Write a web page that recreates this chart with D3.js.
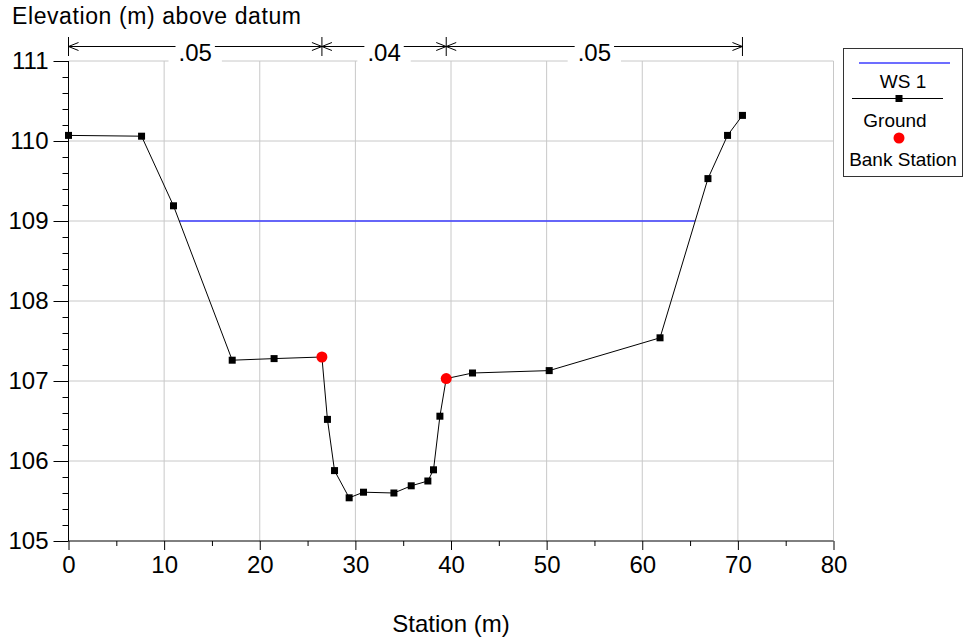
<!DOCTYPE html>
<html>
<head>
<meta charset="utf-8">
<script src="https://cdn.jsdelivr.net/npm/d3@7"></script>
<style>
  body { margin: 0; background: #fff; }
  svg { display: block; font-family: Arial, "Liberation Sans", sans-serif; }
</style>
</head>
<body>
<div id="chart"></div>
<script>
// ground profile (station m, elevation m)
const groundStations = [0, 7.64, 10.98, 17.12, 21.5, 26.5, 27.08, 27.82, 29.35, 30.85, 34.03,
  35.84, 37.58, 38.17, 38.84, 39.5, 42.25, 50.27, 61.86, 66.87, 68.92, 70.48];
const groundElevations = [110.07, 110.06, 109.19, 107.26, 107.28, 107.30, 106.52, 105.88, 105.54, 105.61, 105.60,
  105.69, 105.75, 105.89, 106.56, 107.03, 107.10, 107.13, 107.54, 109.53, 110.07, 110.32];

// bank stations
const bankStations = [26.5, 39.5];
const bankElevations = [107.30, 107.03];

// water surface
const wsStations = [11.6, 65.5];
const wsElevation = 109.0;

// manning's n breaks and values
const nBreaks = [0, 26.5, 39.5, 70.48];
const nValues = [".05", ".04", ".05"];

// axes
const xTicks = [0, 10, 20, 30, 40, 50, 60, 70, 80];
const yTicks = [105, 106, 107, 108, 109, 110, 111];

const width = 968, height = 643;
const margin = { top: 61, right: 134.5, bottom: 102, left: 68.5 };
const innerWidth = width - margin.left - margin.right;
const innerHeight = height - margin.top - margin.bottom;
const font = 'Arial, "Liberation Sans", sans-serif';

const svg = d3.select('#chart').append('svg')
  .attr('width', width)
  .attr('height', height)
  .attr('font-family', font);

const x = d3.scaleLinear().domain([0, 80]).range([margin.left, margin.left + innerWidth]);
const y = d3.scaleLinear().domain([105, 111]).range([margin.top + innerHeight, margin.top]);

const grid = '#c8c8c8';
const wsColor = '#3c3cff';

// gridlines
svg.append('g').selectAll('line').data(xTicks.slice(1)).enter()
  .append('line')
  .attr('x1', d => x(d)).attr('x2', d => x(d))
  .attr('y1', y(105)).attr('y2', y(111))
  .attr('stroke', grid).attr('stroke-width', 1);
svg.append('g').selectAll('line').data(yTicks.slice(1)).enter()
  .append('line')
  .attr('x1', x(0)).attr('x2', x(80))
  .attr('y1', d => y(d)).attr('y2', d => y(d))
  .attr('stroke', grid).attr('stroke-width', 1);

// water surface
svg.append('line')
  .attr('x1', x(wsStations[0])).attr('x2', x(wsStations[1]))
  .attr('y1', y(wsElevation)).attr('y2', y(wsElevation))
  .attr('stroke', wsColor).attr('stroke-width', 1.4);

// ground line
const ground = groundStations.map((s, i) => ({ s: s, e: groundElevations[i] }));
const line = d3.line().x(d => x(d.s)).y(d => y(d.e));
svg.append('path')
  .datum(ground)
  .attr('d', line)
  .attr('fill', 'none')
  .attr('stroke', '#000')
  .attr('stroke-width', 1);

svg.append('g').selectAll('rect').data(ground).enter()
  .append('rect')
  .attr('x', d => x(d.s) - 3.5)
  .attr('y', d => y(d.e) - 3.5)
  .attr('width', 7).attr('height', 7)
  .attr('fill', '#000');

// bank stations
svg.append('g').selectAll('circle').data(bankStations).enter()
  .append('circle')
  .attr('cx', d => x(d))
  .attr('cy', (d, i) => y(bankElevations[i]))
  .attr('r', 5.5)
  .attr('fill', '#ff0000');

// axes
const yAxis = d3.axisLeft(y).tickValues(yTicks).tickSize(15).tickPadding(5).tickFormat(d3.format('d'));
const yMinor = d3.axisLeft(y).tickValues(d3.range(105, 111, 0.2).filter(v => Math.abs(v - Math.round(v)) > 0.01))
  .tickSize(6);
const xAxis = d3.axisBottom(x).tickValues(xTicks).tickSize(9).tickPadding(6);
const xMinor = d3.axisBottom(x).tickValues(d3.range(5, 80, 10)).tickSize(5);

function styleAxis(g) {
  g.attr('font-size', 24).attr('font-family', font);
  g.select('.domain').attr('stroke', '#000');
  g.selectAll('.tick line').attr('stroke', '#000');
  g.selectAll('.tick text').attr('fill', '#000');
}

svg.append('g').attr('transform', `translate(${x(0)},0)`).call(yMinor)
  .call(g => { g.select('.domain').remove(); g.selectAll('.tick text').remove(); })
  .selectAll('.tick line').attr('stroke', '#000');
svg.append('g').attr('transform', `translate(${x(0)},0)`).call(yAxis).call(styleAxis)
  .select('.domain').attr('d', `M0,${y(105)}V${y(111)}`);
svg.append('g').attr('transform', `translate(0,${y(105)})`).call(xMinor)
  .call(g => { g.select('.domain').remove(); g.selectAll('.tick text').remove(); })
  .selectAll('.tick line').attr('stroke', '#000');
svg.append('g').attr('transform', `translate(0,${y(105)})`).call(xAxis).call(styleAxis)
  .select('.domain').attr('d', `M${x(0)},0H${x(80)}`);

// axis titles
svg.append('text')
  .attr('x', 12).attr('y', 24)
  .attr('font-size', 23)
  .attr('textLength', 289).attr('lengthAdjust', 'spacing')
  .text('Elevation (m) above datum');

svg.append('text')
  .attr('x', (x(0) + x(80)) / 2).attr('y', 632)
  .attr('text-anchor', 'middle')
  .attr('font-size', 24)
  .text('Station (m)');

// manning's n bracket
const by = 46.5;
const nb = svg.append('g');
nb.append('line')
  .attr('x1', x(nBreaks[0])).attr('x2', x(nBreaks[nBreaks.length - 1]))
  .attr('y1', by).attr('y2', by)
  .attr('stroke', '#000');
nb.selectAll('line.brk').data(nBreaks).enter()
  .append('line')
  .attr('class', 'brk')
  .attr('x1', d => x(d)).attr('x2', d => x(d))
  .attr('y1', 37).attr('y2', 56)
  .attr('stroke', '#000');

// arrowheads pointing to each break from the segment interior
const arrows = [];
nValues.forEach((v, i) => {
  arrows.push({ at: nBreaks[i], dir: -1 });
  arrows.push({ at: nBreaks[i + 1], dir: 1 });
});
nb.selectAll('path.arrow').data(arrows).enter()
  .append('path')
  .attr('class', 'arrow')
  .attr('d', d => {
    const px = x(d.at);
    const bx = px - d.dir * 10;
    return `M${bx},${by - 4}L${px},${by}L${bx},${by + 4}`;
  })
  .attr('fill', 'none')
  .attr('stroke', '#000');

const labels = nb.selectAll('g.nlab').data(nValues).enter()
  .append('g').attr('class', 'nlab');
labels.append('rect').attr('class', 'bg-wide').attr('fill', '#fff');
labels.append('rect').attr('class', 'bg-tight').attr('fill', '#fff');
labels.append('text')
  .attr('x', (d, i) => x((nBreaks[i] + nBreaks[i + 1]) / 2))
  .attr('y', 61)
  .attr('text-anchor', 'middle')
  .attr('font-size', 24)
  .text(d => d);
labels.each(function() {
  const g = d3.select(this);
  const bb = g.select('text').node().getBBox();
  g.select('.bg-tight')
    .attr('x', bb.x - 3).attr('width', bb.width + 6)
    .attr('y', 40).attr('height', 14);
  g.select('.bg-wide')
    .attr('x', bb.x - 10).attr('width', bb.width + 20)
    .attr('y', 55).attr('height', 9);
});

// legend
const lg = svg.append('g');
lg.append('rect')
  .attr('x', 843.5).attr('y', 48.5)
  .attr('width', 119).attr('height', 128)
  .attr('fill', '#fff')
  .attr('stroke', '#333');
lg.append('line')
  .attr('x1', 859).attr('x2', 950).attr('y1', 63).attr('y2', 63)
  .attr('stroke', wsColor).attr('stroke-width', 1.4);
lg.append('text').attr('x', 903).attr('y', 88).attr('text-anchor', 'middle')
  .attr('font-size', 19).text('WS 1');
lg.append('line')
  .attr('x1', 852).attr('x2', 943).attr('y1', 98.5).attr('y2', 98.5)
  .attr('stroke', '#000');
lg.append('rect')
  .attr('x', 899 - 3.5).attr('y', 98.5 - 3.5).attr('width', 7).attr('height', 7)
  .attr('fill', '#000');
lg.append('text').attr('x', 895).attr('y', 127).attr('text-anchor', 'middle')
  .attr('font-size', 19).text('Ground');
lg.append('circle').attr('cx', 899).attr('cy', 138).attr('r', 5.5).attr('fill', '#ff0000');
lg.append('text').attr('x', 903).attr('y', 166).attr('text-anchor', 'middle')
  .attr('font-size', 19).text('Bank Station');
</script>
</body>
</html>
